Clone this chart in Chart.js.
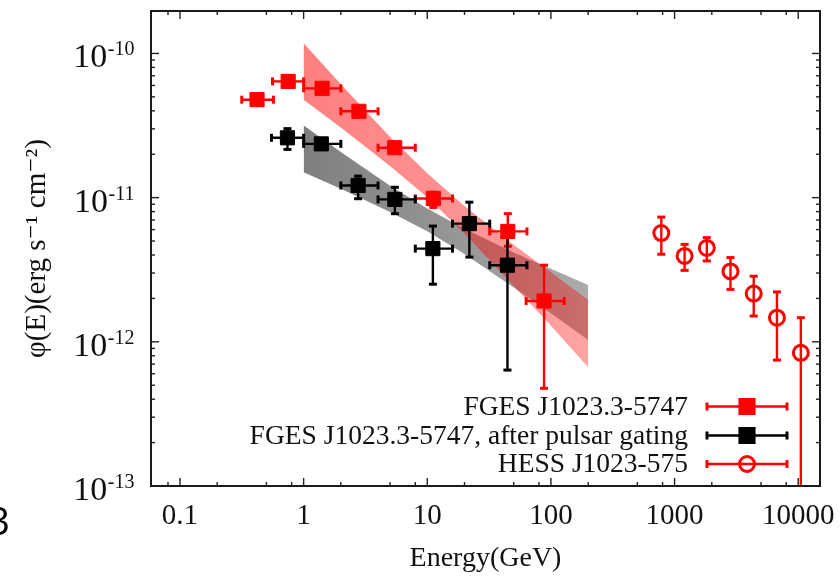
<!DOCTYPE html>
<html><head><meta charset="utf-8">
<script src="https://cdn.jsdelivr.net/npm/chart.js@4.4.0/dist/chart.umd.min.js"></script>
<style>html,body{margin:0;padding:0;background:#fff;}#wrap{width:840px;height:577px;position:relative;}</style>
</head><body><div id="wrap"><canvas id="c" width="840" height="577"></canvas></div>
<script>
// ---- data ----
const xTickValues = [0.1, 1, 10, 100, 1000, 10000];
const xTickLabels = ['0.1', '1', '10', '100', '1000', '10000'];
const xMinorTicks = [0.08, 0.2, 0.5, 0.8, 2, 5, 8, 20, 50, 80, 200, 500, 800, 2000, 5000, 8000];
const yTickValues = [1e-13, 1e-12, 1e-11, 1e-10];
const yTickBase = ['10', '10', '10', '10'];
const yTickExp = ['-13', '-12', '-11', '-10'];

const fgesX   = [0.42, 0.75, 1.41, 2.8, 5.45, 11.2, 44.8, 88];
const fgesXLo = [0.316, 0.56, 1.0, 2.0, 4.0, 8.0, 32, 63];
const fgesXHi = [0.57, 1.0, 2.0, 4.0, 8.0, 16, 64, 128];
const fgesY   = [4.78e-11, 6.40e-11, 5.73e-11, 3.97e-11, 2.22e-11, 9.87e-12, 5.83e-12, 1.92e-12];
const fgesYLo = [4.5e-11, 6.05e-11, 5.4e-11, 3.75e-11, 2.1e-11, 8.55e-12, 4.6e-12, 4.76e-13];
const fgesYHi = [5.05e-11, 6.75e-11, 6.05e-11, 4.2e-11, 2.35e-11, 1.09e-11, 7.74e-12, 3.40e-12];

const gatedX   = [0.74, 1.39, 2.76, 5.47, 11.1, 21.9, 44.5];
const gatedXLo = [0.55, 1.0, 2.0, 4.0, 8.0, 16, 32];
const gatedXHi = [1.0, 2.0, 4.0, 8.0, 16, 32, 64];
const gatedY   = [2.60e-11, 2.36e-11, 1.215e-11, 9.72e-12, 4.43e-12, 6.6e-12, 3.40e-12];
const gatedYLo = [2.16e-11, 2.2e-11, 9.83e-12, 7.74e-12, 2.51e-12, 3.87e-12, 6.37e-13];
const gatedYHi = [3.01e-11, 2.55e-11, 1.41e-11, 1.18e-11, 6.35e-12, 9.3e-12, 6.02e-12];

const hessX   = [781, 1205, 1823, 2832, 4365, 6730, 10500];
const hessY   = [5.68e-12, 3.94e-12, 4.48e-12, 3.08e-12, 2.16e-12, 1.47e-12, 8.39e-13];
const hessYLo = [4.05e-12, 3.13e-12, 3.64e-12, 2.31e-12, 1.51e-12, 7.47e-13, 1e-14];
const hessYHi = [7.33e-12, 4.74e-12, 5.28e-12, 3.84e-12, 2.85e-12, 2.22e-12, 1.47e-12];

const bandX       = [1, 2, 5, 10, 20, 50, 100, 200];
const fgesBandHi  = [1.177e-10, 6.11e-11, 2.63e-11, 1.475e-11, 8.75e-12, 4.71e-12, 3.04e-12, 1.95e-12];
const fgesBandLo  = [4.78e-11, 3.06e-11, 1.655e-11, 1.006e-11, 5.64e-12, 2.44e-12, 1.29e-12, 6.66e-13];
const gatedBandHi = [3.16e-11, 2.07e-11, 1.209e-11, 8.42e-12, 6.08e-12, 4.16e-12, 3.21e-12, 2.48e-12];
const gatedBandLo = [1.50e-11, 1.152e-11, 7.94e-12, 5.84e-12, 4.06e-12, 2.38e-12, 1.58e-12, 1.03e-12];

const labels = ['FGES J1023.3-5747', 'FGES J1023.3-5747, after pulsar gating', 'HESS J1023-575'];

// ---- helpers ----
const SERIF = '"Liberation Serif", "Times New Roman", "DejaVu Serif", serif';
const pts = (xs, ys) => xs.map((x, i) => ({x: x, y: ys[i]}));
function bandGradient(c0, c1) {
  return function (ctx) {
    const ch = ctx.chart;
    if (!ch.chartArea) return c0;
    const xs = ch.scales.x;
    const g = ch.ctx.createLinearGradient(xs.getPixelForValue(bandX[0]), 0, xs.getPixelForValue(bandX[bandX.length - 1]), 0);
    g.addColorStop(0, c0); g.addColorStop(1, c1);
    return g;
  };
}

const errorSets = [
  {color: '#ff0000', x: fgesX, xlo: fgesXLo, xhi: fgesXHi, y: fgesY, ylo: fgesYLo, yhi: fgesYHi},
  {color: '#000000', x: gatedX, xlo: gatedXLo, xhi: gatedXHi, y: gatedY, ylo: gatedYLo, yhi: gatedYHi},
  {color: '#ff0000', x: hessX, y: hessY, ylo: hessYLo, yhi: hessYHi}
];

function line(ctx, x1, y1, x2, y2) { ctx.beginPath(); ctx.moveTo(x1, y1); ctx.lineTo(x2, y2); ctx.stroke(); }

function drawErrorBars(chart) {
  const xs = chart.scales.x, ys = chart.scales.y, ctx = chart.ctx, a = chart.chartArea;
  ctx.save();
  ctx.beginPath(); ctx.rect(a.left, a.top, a.right - a.left, a.bottom - a.top); ctx.clip();
  ctx.lineCap = 'butt';
  errorSets.forEach(s => {
    ctx.strokeStyle = s.color;
    for (let i = 0; i < s.x.length; i++) {
      const px = xs.getPixelForValue(s.x[i]), py = ys.getPixelForValue(s.y[i]);
      if (s.xlo) {
        const x1 = xs.getPixelForValue(s.xlo[i]), x2 = xs.getPixelForValue(s.xhi[i]);
        ctx.lineWidth = 2.4; line(ctx, x1, py, x2, py);
        ctx.lineWidth = 3; line(ctx, x1, py - 4, x1, py + 4); line(ctx, x2, py - 4, x2, py + 4);
      }
      if (s.ylo) {
        const y1 = ys.getPixelForValue(s.ylo[i]), y2 = ys.getPixelForValue(s.yhi[i]);
        ctx.lineWidth = 2.4; line(ctx, px, y1, px, y2);
        ctx.lineWidth = 3; line(ctx, px - 4, y1, px + 4, y1); line(ctx, px - 4, y2, px + 4, y2);
      }
    }
  });
  ctx.restore();
}

const errorBarPlugin = {
  id: 'errorBars',
  beforeDatasetsDraw(chart) { chart.$ebDone = false; },
  beforeDatasetDraw(chart, args) {
    const ds = chart.data.datasets[args.index];
    if (!ds.isPoints || chart.$ebDone) return;
    chart.$ebDone = true;
    drawErrorBars(chart);
  }
};

const framePlugin = {
  id: 'frame',
  afterDraw(chart) {
    const ctx = chart.ctx, a = chart.chartArea, xs = chart.scales.x, ys = chart.scales.y;
    ctx.save();
    ctx.strokeStyle = '#222';
    ctx.lineWidth = 1.4;
    const tick = (v, len, isX) => {
      if (isX) {
        const p = xs.getPixelForValue(v);
        if (p < a.left || p > a.right) return;
        line(ctx, p, a.bottom, p, a.bottom - len); line(ctx, p, a.top, p, a.top + len);
      } else {
        const p = ys.getPixelForValue(v);
        if (p < a.top || p > a.bottom) return;
        line(ctx, a.left, p, a.left + len, p); line(ctx, a.right, p, a.right - len, p);
      }
    };
    xTickValues.forEach(v => tick(v, 8, true));
    xMinorTicks.forEach(v => tick(v, 4, true));
    const yMinor = [];
    yTickValues.forEach(d => { for (let k = 2; k <= 9; k++) yMinor.push(d * k); });
    yTickValues.forEach(v => tick(v, 8, false));
    yMinor.forEach(v => tick(v, 4, false));
    ctx.lineWidth = 2;
    ctx.strokeStyle = '#1a1a1a';
    ctx.strokeRect(a.left, a.top, a.right - a.left, a.bottom - a.top);

    // y tick labels: 10 with superscript exponent, placed by the y scale
    ctx.fillStyle = '#111';
    ctx.textBaseline = 'alphabetic';
    ctx.textAlign = 'left';
    yTickValues.forEach((v, i) => {
      const py = ys.getPixelForValue(v);
      ctx.font = '20px ' + SERIF;
      const we = ctx.measureText(yTickExp[i]).width;
      ctx.font = '34px ' + SERIF;
      const wb = ctx.measureText(yTickBase[i]).width;
      const x0 = a.left - 17 - we - wb;
      ctx.fillText(yTickBase[i], x0, py + 14);
      ctx.font = '20px ' + SERIF;
      ctx.fillText(yTickExp[i], x0 + wb + 0.5, py + 2);
    });

    // legend
    const rows = [
      {label: labels[0], color: '#ff0000', style: 'rect', r: 10, bw: 1, fill: '#ff0000', y: 406.5},
      {label: labels[1], color: '#000000', style: 'rect', r: 10, bw: 1, fill: '#000000', y: 435.5},
      {label: labels[2], color: '#ff0000', style: 'circle', r: 7.5, bw: 3, fill: 'rgba(0,0,0,0)', y: 464}
    ];
    ctx.font = '27.5px ' + SERIF;
    ctx.textAlign = 'right';
    ctx.textBaseline = 'middle';
    rows.forEach(r => {
      ctx.fillStyle = '#111';
      ctx.fillText(r.label, 688, r.y + 1);
      ctx.strokeStyle = r.color;
      ctx.lineWidth = 2.4; line(ctx, 707, r.y, 787, r.y);
      ctx.lineWidth = 3; line(ctx, 707, r.y - 4, 707, r.y + 4); line(ctx, 787, r.y - 4, 787, r.y + 4);
      ctx.fillStyle = r.fill;
      Chart.helpers.drawPoint(ctx, {pointStyle: r.style, radius: r.r, borderWidth: r.bw, rotation: 0}, 747, r.y);
    });

    // clipped panel letter at the left edge of the picture
    ctx.fillStyle = '#000';
    ctx.font = '39px "Open Sans", "DejaVu Sans", sans-serif';
    ctx.textAlign = 'right';
    ctx.textBaseline = 'alphabetic';
    ctx.fillText('3', 10, 535);
    ctx.restore();
  }
};

new Chart(document.getElementById('c'), {
  type: 'scatter',
  data: {
    datasets: [
      {label: 'FGES band upper', data: pts(bandX, fgesBandHi), showLine: true, pointRadius: 0, borderWidth: 0, fill: false, order: 10, borderColor: 'rgba(0,0,0,0)'},
      {label: 'FGES band lower', data: pts(bandX, fgesBandLo), showLine: true, pointRadius: 0, borderWidth: 0, fill: '-1', order: 10, borderColor: 'rgba(0,0,0,0)',
        backgroundColor: bandGradient('rgba(255,0,0,0.5)', 'rgba(255,0,0,0.36)')},
      {label: 'Gated band upper', data: pts(bandX, gatedBandHi), showLine: true, pointRadius: 0, borderWidth: 0, fill: false, order: 11, borderColor: 'rgba(0,0,0,0)'},
      {label: 'Gated band lower', data: pts(bandX, gatedBandLo), showLine: true, pointRadius: 0, borderWidth: 0, fill: '-1', order: 11, borderColor: 'rgba(0,0,0,0)',
        backgroundColor: bandGradient('rgba(0,0,0,0.5)', 'rgba(0,0,0,0.33)')},
      {label: labels[0], isPoints: true, data: pts(fgesX, fgesY), pointStyle: 'rect', pointRadius: 10, borderWidth: 1,
        backgroundColor: '#ff0000', borderColor: '#ff0000', order: 1},
      {label: labels[1], isPoints: true, data: pts(gatedX, gatedY), pointStyle: 'rect', pointRadius: 10, borderWidth: 1,
        backgroundColor: '#000000', borderColor: '#000000', order: 1},
      {label: labels[2], isPoints: true, data: pts(hessX, hessY), pointStyle: 'circle', pointRadius: 7.5, borderWidth: 3,
        backgroundColor: 'rgba(0,0,0,0)', borderColor: '#ff0000', order: 1}
    ]
  },
  options: {
    responsive: false,
    animation: false,
    devicePixelRatio: 1,
    events: [],
    layout: {padding: {top: 10, right: 20, left: 0, bottom: 0}},
    plugins: {legend: {display: false}, tooltip: {enabled: false}},
    scales: {
      x: {
        type: 'logarithmic', position: 'bottom', min: 0.0583, max: 15000,
        afterBuildTicks: s => { s.ticks = xTickValues.map(v => ({value: v})); },
        afterFit: s => { s.height = 91; s.paddingLeft = 0; s.paddingRight = 0; },
        grid: {display: false, drawTicks: false}, border: {display: false},
        ticks: {autoSkip: false, maxRotation: 0, padding: 13, color: '#111', font: {family: SERIF, size: 29},
          callback: (v, i) => xTickLabels[i]},
        title: {display: true, text: 'Energy(GeV)', color: '#111', font: {family: SERIF, size: 28}, padding: {top: 0, bottom: 2}}
      },
      y: {
        type: 'logarithmic', position: 'left', min: 1e-13, max: 1.97e-10,
        afterBuildTicks: s => { s.ticks = yTickValues.map(v => ({value: v})); },
        afterFit: s => { s.width = 151; s.paddingTop = 0; s.paddingBottom = 0; },
        grid: {display: false, drawTicks: false}, border: {display: false},
        ticks: {display: false},
        title: {display: true, text: '\u03C6(E)(erg s\u207B\u00B9 cm\u207B\u00B2)', color: '#111', font: {family: SERIF, size: 29}, padding: {top: 20, bottom: 0}}
      }
    }
  },
  plugins: [errorBarPlugin, framePlugin]
});
</script>
</body></html>
